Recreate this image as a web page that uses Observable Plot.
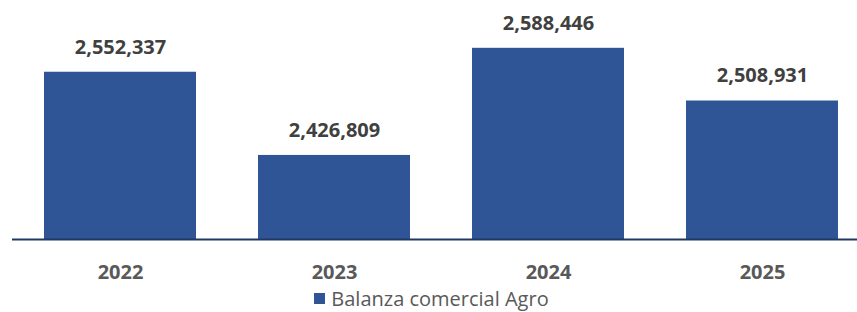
<!DOCTYPE html>
<html>
<head>
<meta charset="utf-8">
<script src="https://cdn.jsdelivr.net/npm/d3@7"></script>
<script src="https://cdn.jsdelivr.net/npm/@observablehq/plot@0.6"></script>
<style>
  html, body { margin: 0; padding: 0; background: #fff; overflow: hidden; }
  #chart { width: 857px; height: 312px; position: relative; }
  .legend { display: flex; align-items: center; justify-content: center; height: 27px;
    font-family: "Open Sans", sans-serif; font-size: 20px; color: #595959; padding-left: 6px; }
  .legend .sw { width: 11px; height: 11px; background: #2F5597; margin-right: 6px; }
</style>
</head>
<body>
<div id="chart"></div>
<script>
const years = ["2022", "2023", "2024", "2025"];
const values = [2552337, 2426809, 2588446, 2508931];
const seriesName = "Balanza comercial Agro";
const yMin = 2300000;
const yMax = 2650000;

const data = years.map((y, i) => ({ year: y, value: values[i] }));
const fmt = d3.format(",");

const plot = Plot.plot({
  width: 857,
  height: 285,
  marginLeft: 12,
  marginRight: 0,
  marginTop: 7,
  marginBottom: 46,
  style: { fontFamily: "'Open Sans', sans-serif", background: "white", overflow: "visible" },
  x: { domain: years, range: [12, 871], paddingInner: 0.288, paddingOuter: 0.144, label: null },
  y: { domain: [yMin, yMax], axis: null },
  marks: [
    Plot.barY(data, { x: "year", y1: () => yMin, y2: "value", fill: "#2F5597" }),
    Plot.ruleY([yMin], { stroke: "#1F3864", strokeWidth: 2 }),
    Plot.text(data, { x: "year", y: "value", text: d => fmt(d.value), dy: -25,
      fontSize: 20, fontWeight: "bold", fill: "#404040" }),
    Plot.axisX({ tickSize: 0, tickPadding: 25, fontSize: 20, fontWeight: "bold",
      color: "#595959", label: null })
  ]
});

const root = document.getElementById("chart");
root.appendChild(plot);
const legend = document.createElement("div");
legend.className = "legend";
const sw = document.createElement("span");
sw.className = "sw";
const lt = document.createElement("span");
lt.textContent = seriesName;
legend.appendChild(sw);
legend.appendChild(lt);
root.appendChild(legend);
</script>
</body>
</html>
